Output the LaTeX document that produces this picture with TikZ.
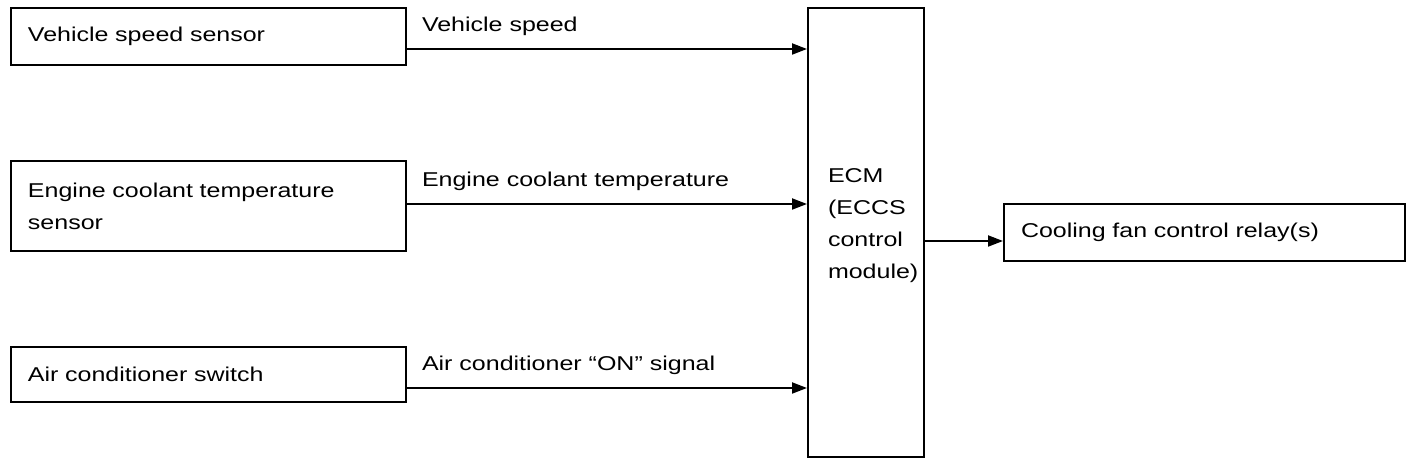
\documentclass[tikz,border=0pt]{standalone}
\usepackage{fontspec}
\setmainfont{Liberation Sans}[FakeStretch=1.25]
\usetikzlibrary{positioning,arrows.meta}

\begin{document}
\begin{tikzpicture}[
	font=\fontsize{10pt}{16pt}\selectfont,
	line width=1pt,
	>={Triangle[length=7.5pt,width=5.5pt]},
	inbox/.style={draw, text width=180.5pt, inner xsep=8.5pt, inner ysep=0pt, align=left},
	outbox/.style={draw, text width=183.5pt, inner xsep=8.5pt, inner ysep=0pt, minimum height=28.5pt, align=left},
	ecmbox/.style={draw, text width=38pt, inner xsep=10pt, minimum height=224.5pt, text depth=57pt, align=left},
	sig/.style={pos=0, anchor=base west, xshift=7.5pt, yshift=8.5pt, inner sep=0pt}
	]
	\useasboundingbox (0,0) rectangle (704pt,-232pt);
	\matrix (inputs) [row sep = 47pt, inner sep=0pt, outer sep=0pt, anchor=north west] at (5pt,-3.5pt) {
	 \node[inbox, minimum height=28.5pt] (VSS) {Vehicle speed sensor}; \\
	 \node[inbox, minimum height=45pt] (ECTS) {Engine coolant temperature\\sensor}; \\
	 \node[inbox, minimum height=27.5pt] (ACS) {Air conditioner switch}; \\
	};
	\node[ecmbox, right=200pt of inputs.north east, anchor=north west] (ECM) {ECM\\(ECCS\\control\\module)};
	\node[outbox, right=39pt of ECM] (CFR) {Cooling fan control relay(s)};
	\coordinate (vs) at ([yshift=-6.25pt]VSS.east);
	\coordinate (ect) at ([yshift=1pt]ECTS.east);
	\coordinate (ac) at ([yshift=-6.75pt]ACS.east);
	\coordinate (fan) at ([yshift=-4.25pt]ECM.east);
	\draw[->] (vs) -- node[sig] {Vehicle speed} (vs -| ECM.west);
	\draw[->] (ect) -- node[sig] {Engine coolant temperature} (ect -| ECM.west);
	\draw[->] (ac) -- node[sig] {Air conditioner “ON” signal} (ac -| ECM.west);
	\draw[->] (fan) -- (fan -| CFR.west);
\end{tikzpicture}
\end{document}
